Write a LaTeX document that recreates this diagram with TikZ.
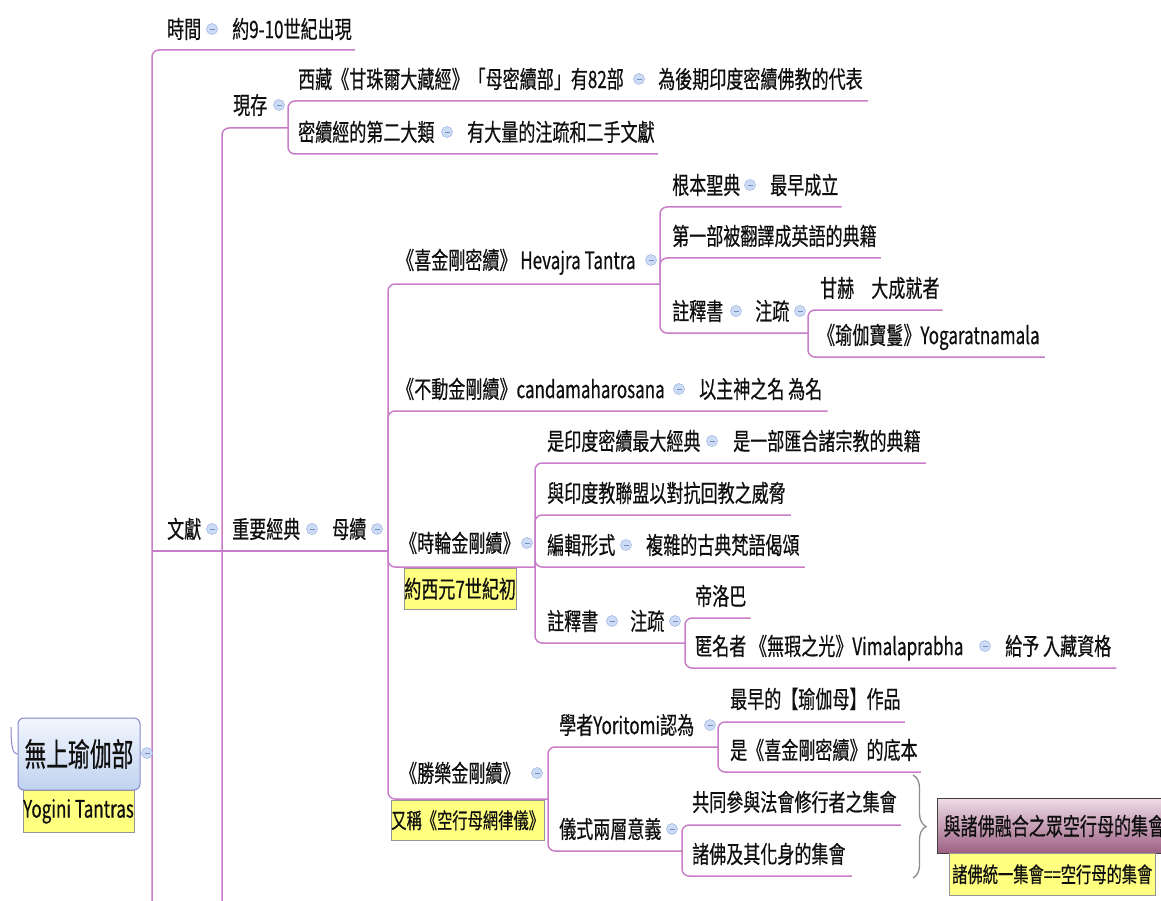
\documentclass[tikz,border=0pt]{standalone}
\usepackage{fontspec}
\newfontfamily\tf[FakeStretch=0.71,FakeBold=0.5]{Noto Sans CJK TC}
\newfontfamily\rf[FakeStretch=0.68,FakeBold=0.6]{Noto Sans CJK TC}
\usetikzlibrary{calc,decorations.pathreplacing}
\definecolor{linec}{RGB}{200,125,200}
\definecolor{collf}{RGB}{205,220,245}
\definecolor{collb}{RGB}{165,185,232}
\definecolor{collm}{RGB}{120,140,195}
\definecolor{laby}{RGB}{255,255,128}
\definecolor{labb}{RGB}{150,150,150}
\definecolor{roott}{RGB}{242,246,253}
\definecolor{rootbt}{RGB}{192,210,240}
\definecolor{rootb}{RGB}{135,135,205}
\definecolor{fuset}{RGB}{238,220,230}
\definecolor{fuseb}{RGB}{155,95,130}
\definecolor{txt}{RGB}{15,15,15}
\definecolor{bracec}{RGB}{140,140,140}
\newcommand\tfont{\tf\fontsize{24}{28}\selectfont}
\newcommand\sfont{\tf\fontsize{21.5}{25}\selectfont}
\newcommand\rfont{\rf\fontsize{32}{36}\selectfont}
\pgfdeclarelayer{bg}
\pgfsetlayers{bg,main}
\begin{document}
\begin{tikzpicture}[x=1pt,y=-1pt,
  conn/.style={draw=linec,line width=1.5pt,rounded corners=7pt},
  topic/.style={anchor=west,inner sep=0pt,font=\tfont,text=txt,text height=18.2pt,text depth=0pt},
  coll/.style={circle,draw=collb,fill=collf,minimum size=11pt,inner sep=0pt,line width=0.6pt,
    path picture={\draw[collm,line width=0.7pt] ([xshift=-2.5pt]path picture bounding box.center) -- ([xshift=2.5pt]path picture bounding box.center);}},
  note/.style={draw=labb,fill=laby,line width=0.6pt,font=\tfont,text=txt,inner sep=0pt,anchor=north west},
  rootbox/.style={draw=rootb,line width=1pt,rounded corners=6pt,top color=roott,bottom color=rootbt,
    minimum width=122pt,minimum height=72pt,inner sep=0pt,font=\rfont,text=txt},
  fusebox/.style={draw=black!75,line width=1.2pt,top color=fuset,bottom color=fuseb,anchor=north west,
    minimum width=240pt,minimum height=55pt,inner xsep=6pt,inner ysep=0pt,text width=228pt,font=\tfont,text=txt}
]
\useasboundingbox (0,0) rectangle (1161,901);

% root
\node[rootbox] (root) at (79,754) {無上瑜伽部};
\node[note,minimum width=107pt,minimum height=42pt,anchor=north] (rootlab) at (78.5,790) {Yogini Tantras};
\node[coll] (c0) at (147,753) {};
\coordinate (rin) at (11,727);

% level 1
\node[topic] (t1) at (167,29) {時間};
\node[coll] (c1) at (212,29) {};
\node[topic] (t1a) at (232,29) {約9-10世紀出現};
\node[topic] (t2) at (167,529) {文獻};
\node[coll] (c2) at (212,529) {};

% 現存
\node[topic] (t3) at (233,105) {現存};
\node[coll] (c3) at (279,105) {};
\node[topic] (t4) at (298,79) {西藏《甘珠爾大藏經》「母密續部」有82部};
\node[coll] (c4) at (639,79) {};
\node[topic] (t4a) at (658,79) {為後期印度密續佛教的代表};
\node[topic] (t5) at (298,132) {密續經的第二大類};
\node[coll] (c5) at (447,132) {};
\node[topic] (t5a) at (467,132) {有大量的注疏和二手文獻};

% 重要經典 / 母續
\node[topic] (t6) at (232,529) {重要經典};
\node[coll] (c6) at (312,529) {};
\node[topic] (t7) at (332,529) {母續};
\node[coll] (c7) at (377,529) {};

% Hevajra
\node[topic] (t8) at (397,260) {《喜金剛密續》 Hevajra Tantra};
\node[coll] (c8) at (651,260) {};
\node[topic] (t9) at (672,185) {根本聖典};
\node[coll] (c9) at (750,185) {};
\node[topic] (t9a) at (770,185) {最早成立};
\node[topic] (t10) at (672,236) {第一部被翻譯成英語的典籍};
\node[topic] (t11) at (672,311) {註釋書};
\node[coll] (c11) at (736,311) {};
\node[topic] (t11a) at (755,311) {注疏};
\node[coll] (c11a) at (800,311) {};
\node[topic] (t12) at (820,288) {甘赫　大成就者};
\node[topic] (t13) at (818,335) {《瑜伽寶鬘》Yogaratnamala};

% 不動
\node[topic] (t14) at (397,389) {《不動金剛續》candamaharosana};
\node[coll] (c14) at (679,389) {};
\node[topic] (t14a) at (699,389) {以主神之名 為名};

% 時輪
\node[topic] (t15) at (400,543) {《時輪金剛續》};
\node[coll] (c15) at (527,543) {};
\node[note,minimum width=103pt,minimum height=41pt] (n15) at (404,568) {約西元7世紀初};
\node[topic] (t16) at (547,441) {是印度密續最大經典};
\node[coll] (c16) at (712,441) {};
\node[topic] (t16a) at (733,441) {是一部匯合諸宗教的典籍};
\node[topic] (t17) at (547,493) {與印度教聯盟以對抗回教之威脅};
\node[topic] (t18) at (547,545) {編輯形式};
\node[coll] (c18) at (626,545) {};
\node[topic] (t18a) at (646,545) {複雜的古典梵語偈頌};
\node[topic] (t19) at (547,621) {註釋書};
\node[coll] (c19) at (612,621) {};
\node[topic] (t19a) at (630,621) {注疏};
\node[coll] (c19a) at (675,621) {};
\node[topic] (t20) at (695,596) {帝洛巴};
\node[topic] (t21) at (695,646) {匿名者 《無瑕之光》Vimalaprabha};
\node[coll] (c21) at (985,646) {};
\node[topic] (t21a) at (1005,646) {給予 入藏資格};

% 勝樂
\node[topic] (t22) at (400,773) {《勝樂金剛續》};
\node[coll] (c22) at (537,773) {};
\node[note,minimum width=152pt,minimum height=40pt,font=\sfont] (n22) at (391,800) {又稱《空行母網律儀》};
\node[topic] (t23) at (559,725) {學者Yoritomi認為};
\node[coll] (c23) at (710,725) {};
\node[topic] (t24) at (730,699) {最早的【瑜伽母】作品};
\node[topic] (t25) at (730,750) {是《喜金剛密續》的底本};
\node[topic] (t26) at (559,829) {儀式兩層意義};
\node[coll] (c26) at (672,829) {};
\node[topic] (t27) at (692,802) {共同參與法會修行者之集會};
\node[topic] (t28) at (692,854) {諸佛及其化身的集會};

% summary
\node[fusebox] (fuse) at (937,798) {與諸佛融合之眾空行母的集會};
\node[note,minimum width=206pt,minimum height=42pt,font=\sfont] (fuselab) at (949,853) {諸佛統一集會==空行母的集會};
\coordinate (brt) at (913,775);
\coordinate (brb) at (913,878);

% branch points
\coordinate (b0) at (152,753);
\coordinate (off0) at (152,910);
\coordinate (b2) at (222,551);
\coordinate (off2) at (222,910);
\coordinate (b3) at (288,128);
\coordinate (b7) at (388,551);
\coordinate (b8) at (660,284);
\coordinate (b11) at (808,333);
\coordinate (b15) at (535,567);
\coordinate (b19) at (685,643);
\coordinate (b22) at (548,799);
\coordinate (b23) at (718,747);
\coordinate (b26) at (682,851);

\begin{pgfonlayer}{bg}
\draw[rootb,line width=1pt] (rin) .. controls (11,748) and (13,754) .. (root.west);
\draw[conn] (root.east) -- (c0);
\draw[conn] (c0) -- (b0);
\draw[conn] (off0) |- ($(t1a.east)+(3,21)$);
\draw[conn] (b0 |- b2) -- (b2);
\draw[conn] (off2) |- (b3);
\draw[conn] (b2) -- (b7);
\draw[conn] (b3) |- ($(t4a.east)+(5,22)$);
\draw[conn] (b3) |- ($(t5a.east)+(3,22)$);
\draw[conn] (b7) |- (b8);
\draw[conn] (b7) |- ($(t14a.east)+(5,22)$);
\draw[conn] (b7) |- (b15);
\draw[conn] (b7) |- (b22);
\draw[conn] (b8) |- ($(t9a.east)+(3,22)$);
\draw[conn] (b8) |- ($(t10.east)+(4,22)$);
\draw[conn] (b8) |- (b11);
\draw[conn] (b11) |- ($(t12.east)+(3,22)$);
\draw[conn] (b11) |- ($(t13.east)+(5,22)$);
\draw[conn] (b15) |- ($(t16a.east)+(5,22)$);
\draw[conn] (b15) |- ($(t17.east)+(5,22)$);
\draw[conn] (b15) |- ($(t18a.east)+(5,22)$);
\draw[conn] (b15) |- (b19);
\draw[conn] (b19) |- ($(t20.east)+(4,22)$);
\draw[conn] (b19) |- ($(t21a.east)+(5,22)$);
\draw[conn] (b22) |- (b23);
\draw[conn] (b22) |- (b26);
\draw[conn] (b23) |- ($(t24.east)+(4,23)$);
\draw[conn] (b23) |- ($(t25.east)+(3,22)$);
\draw[conn] (b26) |- ($(t27.east)+(4,23)$);
\draw[conn] (b26) |- ($(t28.east)+(6,22)$);
\end{pgfonlayer}
\draw[bracec,line width=1.3pt,decorate,decoration={brace,amplitude=13pt}] (brt) -- (brb);
\end{tikzpicture}
\end{document}
